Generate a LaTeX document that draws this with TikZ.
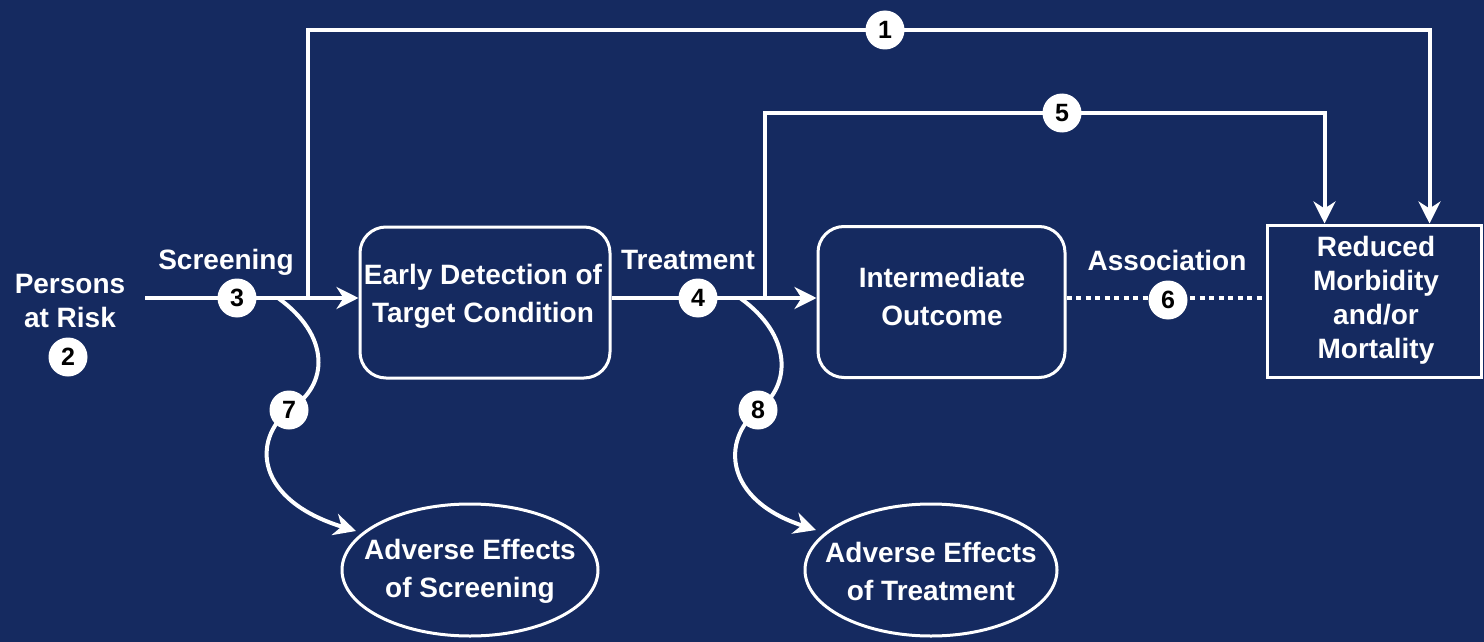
\documentclass[tikz,border=0pt]{standalone}
\usepackage{fontspec}
\setmainfont{Liberation Sans}
\usetikzlibrary{arrows.meta,shapes.geometric}
\definecolor{navy}{RGB}{21,42,96}
\pgfdeclarelayer{back}
\pgfdeclarelayer{lines}
\pgfsetlayers{back,lines,main}
\begin{document}
\begin{tikzpicture}[x=1pt,y=-1pt,
  txt/.style={text=white,font=\fontsize{28}{34}\selectfont\bfseries,align=center,inner sep=0pt},
  wide/.style={font=\fontsize{28}{38}\selectfont\bfseries},
  num/.style={circle,fill=white,text=black,inner sep=0pt,minimum size=39pt,font=\fontsize{25}{25}\selectfont\bfseries},
  conn/.style={draw=white,line width=4pt},
  arr/.style={conn,-{Stealth[length=22pt,width=22pt,inset=7pt]}},
  rbox/.style={draw=white,line width=3pt,rounded corners=26pt,minimum width=250pt,minimum height=151pt,inner sep=0pt},
  sbox/.style={draw=white,line width=3pt,minimum width=214pt,minimum height=152pt,inner sep=0pt},
  ell/.style={ellipse,draw=white,line width=3pt,minimum width=256pt,minimum height=132pt,inner sep=0pt},
  dotline/.style={draw=white,line width=4pt,dash pattern=on 5pt off 4.5pt}
]
\begin{pgfonlayer}{back}
\fill[navy] (0,0) rectangle (1484,642);
\end{pgfonlayer}
\useasboundingbox (0,0) rectangle (1484,642);

% boxes
\node[rbox] (edt) at (485,302.5) {};
\node[txt,wide] at (483,296) {Early Detection of\\Target Condition};
\node[rbox,minimum width=247pt] (io) at (941.5,302) {};
\node[txt,wide] at (942,296) {Intermediate\\Outcome};
\node[sbox] (rmm) at (1374.5,301) {};
\node[txt] at (1376,300) {Reduced\\Morbidity\\and/or\\Mortality};
\node[ell] (aes) at (470,570) {};
\node[txt,wide] at (470,571) {Adverse Effects\\of Screening};
\node[ell,minimum width=252pt] (aet) at (931,570) {};
\node[txt,wide] at (931,571) {Adverse Effects\\of Treatment};

% labels
\node[txt] (risk) at (70,301) {Persons\\at Risk};
\node[txt] (lscr) at (226,262) {Screening};
\node[txt] (ltrt) at (688,260) {Treatment};
\node[txt] (lass) at (1167,260) {Association};

% numbered circles
\node[num] (n1) at (885,30) {1};
\node[num] (n2) at (68,357) {2};
\node[num] (n3) at (237,298) {3};
\node[num] (n4) at (698,298) {4};
\node[num] (n5) at (1062,113) {5};
\node[num] (n6) at (1168,300) {6};
\node[num] (n7) at (289,410) {7};
\node[num] (n8) at (758,410) {8};

% free ends and junctions
\coordinate (s0) at (145,298);
\coordinate (j1) at (308,298);
\coordinate (j5) at (765,298);
\coordinate (c7) at (278,298);
\coordinate (c8) at (740,298);
\coordinate (e7) at (356,531);
\coordinate (e8) at (816,530);

\begin{pgfonlayer}{lines}
\draw[arr] (s0) -- (s0 -| edt.west);
\draw[arr] (edt.east |- s0) -- (io.west |- s0);
\draw[dotline] (io.east |- s0) -- (rmm.west |- s0);
\draw[arr] (j1) |- (n1.center) -| ([xshift=55pt]rmm.north);
\draw[arr] (j5) |- (n5.center) -| ([xshift=-50pt]rmm.north);
\draw[conn] (c7) .. controls (330,335) and (330,385) .. (n7.center);
\draw[arr] (n7.center) .. controls (252,440) and (255,500) .. (e7);
\draw[conn] (c8) .. controls (792,335) and (792,385) .. (n8.center);
\draw[arr] (n8.center) .. controls (721,440) and (724,500) .. (e8);
\end{pgfonlayer}
\end{tikzpicture}
\end{document}
